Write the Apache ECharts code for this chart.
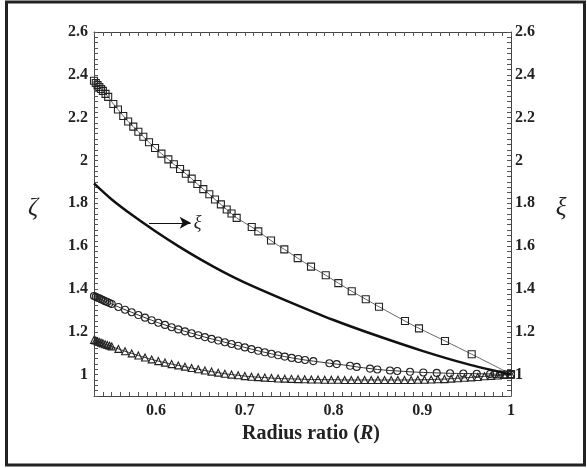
<!DOCTYPE html>
<html><head><meta charset="utf-8">
<script src="https://cdn.jsdelivr.net/npm/echarts@6/dist/echarts.min.js"></script>
<style>html,body{margin:0;padding:0;background:#fff}#c{width:587px;height:468px}</style>
</head><body><div id="c"></div>
<script>
// Squares curve
const sqR = [0.530,0.532,0.534,0.536,0.538,0.540,0.543,0.546,0.5518,0.557,0.563,0.5685,0.5743,0.580,0.5856,0.592,0.5988,0.606,0.6138,0.620,0.627,0.6335,0.6401,0.6465,0.6532,0.660,0.6664,0.673,0.6796,0.685,0.6908,0.7078,0.7152,0.7295,0.7445,0.7596,0.7746,0.7912,0.8054,0.8205,0.8363,0.8512,0.8805,0.8963,0.9256,0.9557,1.0];
const sqV = [2.372,2.362,2.352,2.343,2.334,2.325,2.311,2.297,2.264,2.238,2.208,2.182,2.158,2.134,2.111,2.085,2.058,2.032,2.005,1.982,1.960,1.938,1.915,1.890,1.866,1.842,1.818,1.795,1.771,1.752,1.732,1.689,1.669,1.626,1.585,1.544,1.504,1.464,1.427,1.389,1.352,1.317,1.250,1.216,1.157,1.095,1.002];
// Xi (solid thick line)
const xiR = [0.53,0.55,0.575,0.60,0.625,0.65,0.675,0.70,0.75,0.80,0.85,0.90,0.95,1.00];
const xiV = [1.893,1.818,1.739,1.667,1.600,1.538,1.481,1.430,1.340,1.255,1.180,1.111,1.050,1.000];
// Circles curve
const ciR = [0.530,0.532,0.534,0.536,0.538,0.540,0.5425,0.545,0.5475,0.550,0.5575,0.565,0.5725,0.580,0.5875,0.595,0.6025,0.610,0.6175,0.625,0.6325,0.640,0.6475,0.655,0.6625,0.670,0.6775,0.685,0.6925,0.700,0.7075,0.715,0.7225,0.730,0.7375,0.745,0.7528,0.7603,0.7679,0.7772,0.7953,0.8036,0.8186,0.8261,0.8411,0.8493,0.8636,0.8718,0.8862,0.9012,0.9163,0.9313,0.9463,0.9614,0.9764,0.982,0.9877,0.9933,1.0];
const ciV = [1.367,1.363,1.359,1.356,1.352,1.348,1.343,1.339,1.334,1.330,1.316,1.303,1.291,1.278,1.266,1.254,1.242,1.232,1.221,1.211,1.202,1.193,1.184,1.175,1.167,1.159,1.151,1.143,1.135,1.127,1.119,1.111,1.104,1.097,1.090,1.084,1.078,1.073,1.068,1.063,1.053,1.049,1.041,1.036,1.028,1.024,1.019,1.017,1.013,1.010,1.008,1.006,1.005,1.004,1.003,1.002,1.001,1.001,1.000];
// Triangles curve
const trR = [0.530,0.532,0.534,0.536,0.538,0.540,0.5425,0.545,0.5475,0.550,0.5575,0.565,0.5725,0.580,0.5875,0.595,0.6025,0.610,0.6175,0.625,0.6325,0.640,0.6475,0.655,0.6625,0.670,0.6775,0.685,0.6925,0.700,0.7075,0.715,0.7225,0.730,0.7375,0.745,0.7525,0.760,0.7675,0.775,0.7825,0.790,0.7975,0.805,0.8125,0.820,0.8275,0.835,0.8425,0.850,0.8575,0.865,0.8725,0.880,0.8875,0.895,0.9025,0.910,0.9175,0.925,0.9325,0.940,0.9475,0.955,0.9625,0.970,0.9775,0.985,0.9925,1.0];
const trV = [1.162,1.159,1.156,1.152,1.149,1.146,1.142,1.138,1.135,1.131,1.120,1.109,1.099,1.089,1.080,1.071,1.063,1.056,1.049,1.043,1.037,1.031,1.025,1.019,1.014,1.009,1.004,1.000,0.997,0.993,0.990,0.988,0.986,0.984,0.982,0.981,0.980,0.979,0.978,0.977,0.977,0.976,0.976,0.976,0.975,0.975,0.975,0.975,0.975,0.975,0.975,0.975,0.975,0.975,0.975,0.976,0.976,0.977,0.978,0.979,0.981,0.983,0.985,0.987,0.989,0.992,0.994,0.996,0.998,1.000];
// Annotation arrow for xi
const arrowFrom = [0.592, 1.709];
const arrowTo = [0.639, 1.709];
// Tick labels
const xTickLabels = [0.6, 0.7, 0.8, 0.9, 1.0];
const yTickLabels = [1.0, 1.2, 1.4, 1.6, 1.8, 2.0, 2.2, 2.4, 2.6];

const xMin = 0.53, xMax = 1.0, yMin = 0.9, yMax = 2.6;
const xMinor = []; for (let i = 0; i <= 47; i++) xMinor.push(+(0.53 + i * 0.01).toFixed(2));
const yMinor = []; for (let i = 0; i <= 68; i++) yMinor.push(+(0.9 + i * 0.025).toFixed(3));

const FONT = '"Liberation Serif","DejaVu Serif",serif';
const labelStyle = { fontFamily: FONT, fontWeight: 'bold', fontSize: 16, color: '#222' };
const zip = (a, b) => a.map((v, i) => [v, b[i]]);

function xAx(pos, showLabel) {
  return {
    type: 'value', position: pos, min: xMin, max: xMax,
    axisLine: { show: true, onZero: false, lineStyle: { color: '#444', width: 1 } },
    axisTick: { show: true, inside: true, length: 4, customValues: xMinor, lineStyle: { color: '#555' } },
    axisLabel: Object.assign({ show: showLabel, margin: 7, customValues: xTickLabels,
      formatter: v => (Math.abs(v - 1) < 1e-9 ? '1' : String(+v.toFixed(1))) }, labelStyle),
    splitLine: { show: false }
  };
}
function yAx(pos) {
  return {
    type: 'value', position: pos, min: yMin, max: yMax,
    axisLine: { show: true, onZero: false, lineStyle: { color: '#444', width: 1 } },
    axisTick: { show: true, inside: true, length: 4, customValues: yMinor, lineStyle: { color: '#555' } },
    axisLabel: Object.assign({ show: true, margin: pos === 'left' ? 6 : 4, customValues: yTickLabels,
      formatter: v => (Math.abs(v - 1) < 1e-9 ? '1' : (Math.abs(v - 2) < 1e-9 ? '2' : String(+v.toFixed(1)))) }, labelStyle),
    splitLine: { show: false }
  };
}

const hollow = { color: 'rgba(255,255,255,0)', borderColor: '#222', borderWidth: 1.1 };

const option = {
  animation: false,
  backgroundColor: '#fff',
  grid: { left: 94, right: 76, top: 32, bottom: 72 },
  xAxis: [xAx('bottom', true), xAx('top', false)],
  yAxis: [yAx('left'), yAx('right')],
  series: [
    { type: 'line', data: zip(sqR, sqV), smooth: 0.3, symbol: 'rect', symbolSize: 7,
      lineStyle: { color: '#666', width: 1 }, itemStyle: hollow, z: 3 },
    { type: 'line', data: zip(xiR, xiV), smooth: 0.3, symbol: 'none',
      lineStyle: { color: '#111', width: 2.5 }, z: 4,
      markLine: { silent: true, symbol: ['none', 'arrow'], symbolSize: [9, 11],
        lineStyle: { color: '#111', width: 1.2, type: 'solid' },
        label: { show: true, position: 'end', distance: 3, formatter: 'ξ',
          fontFamily: FONT, fontStyle: 'italic', fontSize: 18, color: '#222' },
        data: [[{ coord: arrowFrom }, { coord: arrowTo }]] } },
    { type: 'line', data: zip(ciR, ciV), smooth: 0.3, symbol: 'circle', symbolSize: 7,
      lineStyle: { color: '#333', width: 1 }, itemStyle: hollow, z: 3 },
    { type: 'line', data: zip(trR, trV), smooth: 0.3, symbol: 'triangle', symbolSize: 7,
      lineStyle: { color: '#333', width: 1 }, itemStyle: hollow, z: 3 }
  ],
  graphic: [
    { type: 'rect', shape: { x: 6.5, y: 2, width: 578, height: 463 }, style: { fill: 'none', stroke: '#222', lineWidth: 3 }, silent: true },
    { type: 'text', x: 33, y: 208, style: { text: 'ζ', font: 'italic 25px ' + FONT, fill: '#222', align: 'center', verticalAlign: 'middle' } },
    { type: 'text', x: 561, y: 208, style: { text: 'ξ', font: 'italic 25px ' + FONT, fill: '#222', align: 'center', verticalAlign: 'middle' } },
    { type: 'text', x: 311, y: 434, style: { rich: { b: { fontFamily: FONT, fontWeight: 'bold', fontSize: 20, fill: '#222' }, i: { fontFamily: FONT, fontWeight: 'bold', fontStyle: 'italic', fontSize: 20, fill: '#222' } },
      text: '{b|Radius ratio (}{i|R}{b|)}', align: 'center', verticalAlign: 'middle' } }
  ]
};
echarts.init(document.getElementById('c'), null, { renderer: 'canvas' }).setOption(option);
</script>
</body></html>
